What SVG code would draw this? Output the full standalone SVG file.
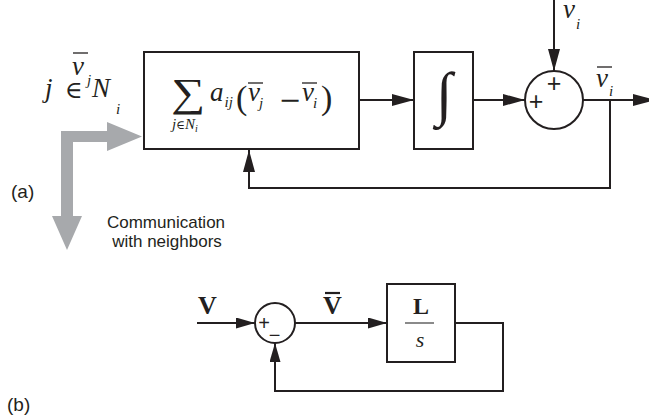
<svg xmlns="http://www.w3.org/2000/svg" width="649" height="416" viewBox="0 0 649 416">
  <defs>
    <style>
      .ln { fill: none; stroke: #231f20; stroke-width: 2; }
      .box { fill: #ffffff; stroke: #231f20; stroke-width: 2; }
      .bar { stroke: #231f20; stroke-width: 1.3; }
      .m { font-family: "Liberation Serif", serif; font-style: italic; fill: #231f20; }
      .r { font-family: "Liberation Serif", serif; fill: #231f20; }
      .d { font-family: "DejaVu Serif", serif; font-style: normal; fill: #231f20; }
      .b { font-family: "Liberation Serif", serif; font-weight: bold; fill: #231f20; }
      .s { font-family: "Liberation Sans", Arial, sans-serif; fill: #231f20; }
    </style>
    <marker id="ah" viewBox="0 0 22 12" refX="22" refY="6" markerWidth="22" markerHeight="12" markerUnits="userSpaceOnUse" orient="auto">
      <path d="M0,0 L22,6 L0,12 z" fill="#231f20"/>
    </marker>
    <marker id="ahs" viewBox="0 0 19 11" refX="19" refY="5.5" markerWidth="19" markerHeight="11" markerUnits="userSpaceOnUse" orient="auto">
      <path d="M0,0 L19,5.5 L0,11 z" fill="#231f20"/>
    </marker>
  </defs>

  <rect width="649" height="416" fill="#ffffff"/>

  <!-- connectors -->
  <g id="connectors">
    <line class="ln" x1="359" y1="100" x2="414" y2="100" marker-end="url(#ah)"/>
    <line class="ln" x1="473" y1="100" x2="525" y2="100" marker-end="url(#ah)"/>
    <line class="ln" x1="554" y1="0" x2="554" y2="71" marker-end="url(#ah)"/>
    <line class="ln" x1="583" y1="100" x2="655" y2="100" marker-end="url(#ah)"/>
    <polyline class="ln" points="610,100 610,188 249,188 249,150" marker-end="url(#ah)"/>
    <line class="ln" x1="197" y1="323" x2="255" y2="323" marker-end="url(#ahs)"/>
    <line class="ln" x1="295" y1="323" x2="387" y2="323" marker-end="url(#ahs)"/>
    <polyline class="ln" points="455,323 503,323 503,391 275,391 275,343" marker-end="url(#ahs)"/>
    <!-- wide grey communication arrow -->
    <polygon points="61,131 107,131 107,122 142,136.5 107,151 107,142 73,142 73,216 82,216 67,250 52,216 61,216" fill="#a7a9ac"/>
  </g>

  <!-- consensus block -->
  <g id="consensus">
    <rect class="box" x="144" y="52" width="215" height="97"/>
    <text class="r" x="171" y="106" font-size="40" textLength="34" lengthAdjust="spacingAndGlyphs">∑</text>
    <text class="m" x="210" y="101" font-size="27">a<tspan font-size="15" dy="6" dx="1">ij</tspan></text>
    <text class="r" x="236" y="109" font-size="34">(</text>
    <text class="m" x="248" y="101" font-size="27">v<tspan font-size="15" dy="7" dx="-1">j</tspan></text>
    <line class="bar" x1="248" y1="83" x2="263" y2="83"/>
    <text class="d" x="290" y="109" font-size="27" text-anchor="middle">−</text>
    <text class="m" x="302" y="101" font-size="27">v<tspan font-size="15" dy="7" dx="-1">i</tspan></text>
    <line class="bar" x1="302" y1="83" x2="317" y2="83"/>
    <text class="r" x="321" y="109" font-size="34">)</text>
    <text class="m" x="172" y="129" font-size="15">j<tspan class="d" font-size="12">∈</tspan>N<tspan font-size="10" dy="3">i</tspan></text>
  </g>

  <!-- integrator block -->
  <g id="integrator">
    <rect class="box" x="414" y="52" width="59" height="97"/>
    <text class="m" x="444" y="114" font-size="60" text-anchor="middle">∫</text>
  </g>

  <!-- summing junction -->
  <g id="sum">
    <circle class="ln" cx="554" cy="100" r="29"/>
    <text class="s" x="554" y="92" font-size="25" text-anchor="middle">+</text>
    <text class="s" x="536" y="110" font-size="25" text-anchor="middle">+</text>
  </g>

  <!-- signal labels -->
  <g id="labels-a">
    <text class="m" x="563" y="18" font-size="27">v<tspan font-size="15" dy="11" dx="1">i</tspan></text>
    <text class="m" x="596" y="87" font-size="27">v<tspan font-size="15" dy="9" dx="1">i</tspan></text>
    <line class="bar" x1="597" y1="67" x2="612" y2="67"/>

    <!-- neighbour states entering the block -->
    <text class="m" font-size="27"><tspan x="72" y="75">v</tspan><tspan font-size="15" x="87" y="85">j</tspan><tspan x="45" y="97">j</tspan><tspan class="d" font-size="24" x="65" y="98">∈</tspan><tspan x="92" y="97">N</tspan><tspan font-size="15" x="116" y="114">i</tspan></text>
    <line class="bar" x1="73" y1="53" x2="88" y2="53"/>

    <text class="s" x="11" y="198" font-size="19">(a)</text>
    <text class="s" x="166" y="228" font-size="17" text-anchor="middle">Communication</text>
    <text class="s" x="167" y="247" font-size="17" text-anchor="middle">with neighbors</text>
  </g>

  <!-- (b) comparator -->
  <g id="comparator">
    <circle class="ln" cx="275" cy="323" r="20"/>
    <text class="s" x="264" y="330" font-size="20" text-anchor="middle">+</text>
    <text class="s" x="274.5" y="342" font-size="20" text-anchor="middle">−</text>
  </g>

  <!-- (b) L/s block -->
  <g id="gain">
    <rect class="box" x="387" y="284" width="68" height="78"/>
    <text class="b" x="421" y="314" font-size="24" text-anchor="middle">L</text>
    <line x1="405" y1="323" x2="434" y2="323" stroke="#8a8a8a" stroke-width="2"/>
    <text class="m" x="420" y="347" font-size="22" text-anchor="middle">s</text>
  </g>

  <g id="labels-b">
    <text class="b" x="198" y="314" font-size="26">V</text>
    <text class="b" x="323" y="314" font-size="26">V</text>
    <line x1="325" y1="293" x2="340" y2="293" stroke="#231f20" stroke-width="2.2"/>
    <text class="s" x="7" y="411" font-size="19">(b)</text>
  </g>
</svg>
